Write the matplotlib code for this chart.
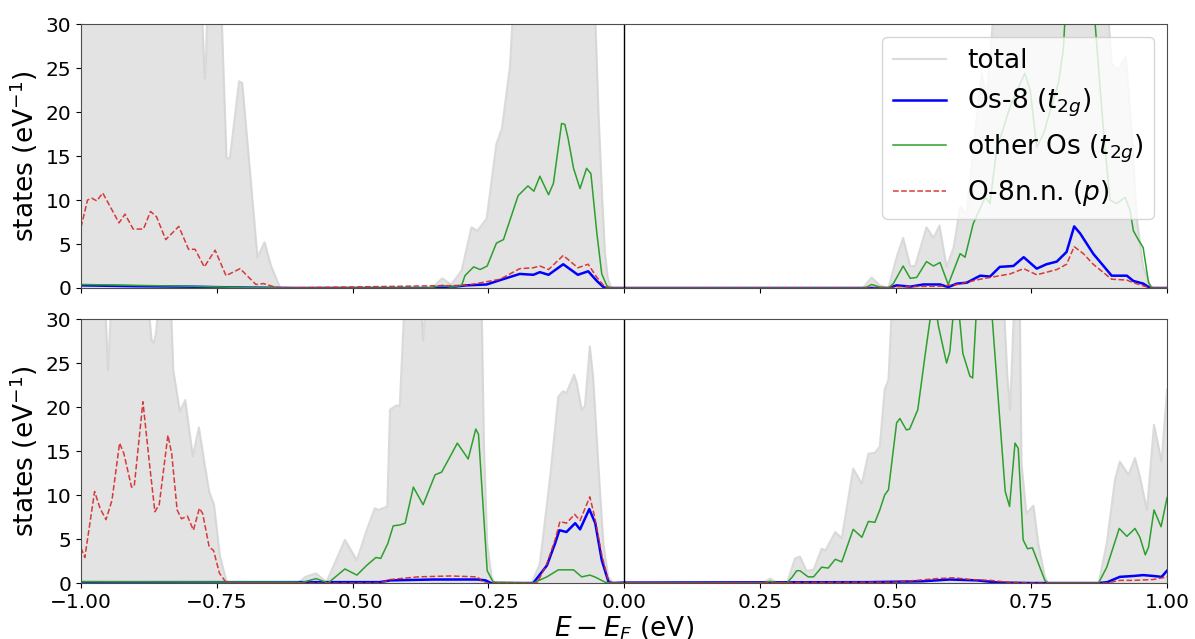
import numpy as np
import matplotlib
matplotlib.use('Agg')
import matplotlib.pyplot as plt

# ---- top panel ----
top_total_x = [-1.0, -0.90, -0.80, -0.777, -0.772, -0.770, -0.768, -0.745, -0.741, -0.732,
               -0.726, -0.709, -0.703, -0.675, -0.662, -0.650, -0.633, -0.360, -0.348, -0.335,
               -0.318, -0.299, -0.281, -0.270, -0.253, -0.235, -0.225, -0.210, -0.205, -0.150,
               -0.053, -0.047, -0.040, -0.035, -0.030, -0.025, -0.020, 0.440, 0.456, 0.471,
               0.487, 0.502, 0.514, 0.527, 0.536, 0.557, 0.570, 0.581, 0.594, 0.607,
               0.619, 0.631, 0.644, 0.659, 0.668, 0.680, 0.750, 0.892, 0.898, 0.910,
               0.924, 0.935, 0.944, 0.956, 0.969, 0.975, 1.0]
top_total_y = [40, 45, 40, 31, 23.8, 25.5, 31, 35, 31, 14.8,
               14.7, 23.5, 23.3, 3.5, 5.2, 2.5, 0, 0, 0.3, 1.1,
               0.4, 2.0, 6.9, 6.5, 7.9, 16.4, 18.1, 25.2, 31, 40,
               31, 20, 10, 4, 1.2, 0.2, 0, 0, 1.2, 0.3,
               0, 3.5, 5.7, 2.5, 2.5, 6.9, 5.7, 7.1, 2.4, 4.6,
               9.2, 8.4, 16.4, 24.4, 21.4, 31, 40, 31, 25.5, 24.8,
               26.3, 17.6, 8.1, 2.4, 0.3, 0, 0]

top_os8_x = [-1.0, -0.9, -0.8, -0.7, -0.6, -0.345, -0.320, -0.290, -0.253, -0.228,
             -0.192, -0.167, -0.155, -0.139, -0.112, -0.085, -0.066, -0.050, -0.038, -0.032,
             0.487, 0.502, 0.527, 0.551, 0.582, 0.597, 0.613, 0.631, 0.656, 0.674,
             0.692, 0.717, 0.736, 0.760, 0.778, 0.797, 0.815, 0.829, 0.840, 0.864,
             0.898, 0.926, 0.938, 0.956, 0.969, 1.0]
top_os8_y = [0.3, 0.2, 0.15, 0.05, 0, 0, 0.1, 0.3, 0.4, 0.9,
             1.6, 1.5, 1.8, 1.5, 2.7, 1.5, 1.9, 0.8, 0.1, 0,
             0, 0.3, 0.15, 0.4, 0.4, 0.1, 0.5, 0.6, 1.4, 1.3,
             2.4, 2.5, 3.5, 2.2, 2.7, 3.0, 4.1, 7.0, 6.2, 3.9,
             1.4, 1.4, 0.8, 0.5, 0, 0]

top_other_x = [-1.0, -0.9, -0.8, -0.7, -0.6, -0.360, -0.335, -0.318, -0.299, -0.293,
               -0.277, -0.265, -0.252, -0.235, -0.222, -0.195, -0.177, -0.166, -0.155, -0.139,
               -0.130, -0.115, -0.109, -0.103, -0.093, -0.081, -0.069, -0.061, -0.050, -0.041,
               -0.032, -0.026, 0.444, 0.456, 0.471, 0.487, 0.496, 0.514, 0.527, 0.539,
               0.557, 0.570, 0.582, 0.597, 0.619, 0.628, 0.643, 0.665, 0.674, 0.686,
               0.711, 0.738, 0.748, 0.760, 0.773, 0.785, 0.800, 0.809, 0.812, 0.840,
               0.867, 0.877, 0.886, 0.895, 0.907, 0.923, 0.932, 0.938, 0.947, 0.956,
               0.966, 0.972, 1.0]
top_other_y = [0.4, 0.3, 0.2, 0.05, 0, 0, 0.3, 0.1, 0.3, 1.4,
               2.4, 2.1, 2.5, 5.1, 5.5, 10.5, 11.6, 11.0, 12.7, 10.6,
               11.9, 18.7, 18.6, 17.0, 13.6, 11.3, 13.6, 13.0, 6.2, 1.6,
               0.3, 0, 0, 0.4, 0.1, 0, 0.5, 2.5, 1.1, 1.2,
               3.0, 2.5, 2.9, 0.4, 3.9, 3.5, 7.3, 10.3, 9.6, 15.7,
               20.6, 24.4, 22.5, 16.0, 17.6, 20.2, 23.3, 27.1, 30.5, 36,
               30.5, 22.5, 15.7, 10.0, 9.6, 10.3, 8.8, 6.5, 5.5, 4.6,
               0.6, 0, 0]

top_onn_x = [-1.0, -0.988, -0.980, -0.971, -0.960, -0.930, -0.919, -0.904, -0.885, -0.872,
             -0.861, -0.844, -0.820, -0.802, -0.790, -0.773, -0.753, -0.733, -0.707, -0.678,
             -0.664, -0.637, -0.290, -0.228, -0.192, -0.167, -0.155, -0.139, -0.112, -0.085,
             -0.066, -0.050, -0.035, -0.029, 0.490, 0.502, 0.582, 0.613, 0.656, 0.674,
             0.711, 0.736, 0.760, 0.797, 0.815, 0.829, 0.846, 0.864, 0.898, 0.926,
             0.938, 0.969, 1.0]
top_onn_y = [6.9, 10.0, 10.2, 9.9, 10.8, 7.4, 8.4, 6.7, 6.7, 8.7,
             8.1, 5.5, 7.0, 4.4, 4.4, 2.4, 4.3, 1.4, 2.2, 0.4,
             0.5, 0, 0.3, 1.0, 2.2, 2.3, 2.5, 2.1, 3.7, 2.3,
             2.7, 1.2, 0.1, 0, 0, 0.15, 0.2, 0.4, 1.0, 1.2,
             1.6, 2.2, 1.5, 2.1, 2.7, 4.7, 3.9, 2.7, 1.0, 0.9,
             0.6, 0, 0]

# ---- bottom panel ----
bot_total_x = [-1.0, -0.970, -0.955, -0.950, -0.945, -0.920, -0.875, -0.870, -0.866, -0.862,
               -0.858, -0.845, -0.834, -0.830, -0.818, -0.808, -0.794, -0.783, -0.772, -0.764,
               -0.755, -0.744, -0.732, -0.728, -0.600, -0.587, -0.567, -0.548, -0.514, -0.492,
               -0.474, -0.459, -0.452, -0.436, -0.431, -0.419, -0.413, -0.405, -0.380, -0.373,
               -0.370, -0.366, -0.330, -0.262, -0.258, -0.252, -0.244, -0.238, -0.170, -0.155,
               -0.136, -0.121, -0.112, -0.106, -0.092, -0.087, -0.078, -0.072, -0.063, -0.057,
               -0.047, -0.038, -0.029, -0.020, 0.255, 0.269, 0.283, 0.300, 0.315, 0.324,
               0.336, 0.349, 0.364, 0.371, 0.389, 0.401, 0.422, 0.438, 0.450, 0.462,
               0.471, 0.480, 0.487, 0.493, 0.600, 0.700, 0.706, 0.711, 0.718, 0.722,
               0.729, 0.732, 0.741, 0.754, 0.763, 0.775, 0.781, 0.874, 0.889, 0.904,
               0.913, 0.929, 0.941, 0.950, 0.963, 0.976, 0.990, 1.0]
bot_total_y = [40, 40, 31, 24.2, 31, 40, 31, 27.6, 27.3, 28.4,
               31, 40, 31, 24.2, 19.5, 20.8, 14.4, 17.7, 13.4, 10.4,
               8.9, 3.0, 0.2, 0, 0, 0.7, 1.1, 0.1, 4.9, 2.6,
               6.0, 8.5, 8.3, 8.7, 19.7, 20.2, 20.1, 31, 40, 31,
               27.6, 31, 40, 31, 15.9, 4.5, 0.7, 0, 0, 2.2,
               12.1, 21.2, 21.8, 21.6, 23.7, 22.7, 19.7, 20.1, 26.9, 23.5,
               13.2, 4.5, 0.7, 0, 0, 0.5, 0, 0, 2.8, 3.0,
               1.4, 1.5, 3.9, 3.7, 5.8, 5.1, 13.0, 11.3, 14.7, 14.8,
               15.5, 22.0, 23.1, 31, 40, 31, 23.5, 19.7, 31, 35,
               31, 13.6, 7.9, 8.8, 4.5, 0.7, 0, 0, 4.5, 11.7,
               13.8, 12.3, 14.2, 12.1, 8.3, 18.0, 13.8, 22.0]

bot_os8_x = [-1.0, -0.45, -0.43, -0.35, -0.27, -0.255, -0.245, -0.167, -0.142, -0.127,
             -0.119, -0.106, -0.090, -0.081, -0.064, -0.053, -0.041, -0.029, -0.023, 0.0,
             0.45, 0.55, 0.60, 0.65, 0.69, 0.75, 0.874, 0.890, 0.913, 0.938,
             0.956, 0.975, 0.990, 1.0]
bot_os8_y = [0.1, 0.1, 0.3, 0.4, 0.4, 0.3, 0, 0, 2.0, 4.5,
             6.0, 5.8, 6.8, 6.1, 8.4, 6.8, 2.6, 0.2, 0, 0.05,
             0.1, 0.2, 0.4, 0.3, 0.05, 0, 0, 0.1, 0.7, 0.8,
             0.9, 0.8, 0.7, 1.4]

bot_other_x = [-1.0, -0.60, -0.597, -0.567, -0.545, -0.514, -0.492, -0.474, -0.457, -0.448,
               -0.435, -0.425, -0.413, -0.403, -0.388, -0.370, -0.348, -0.336, -0.320, -0.307,
               -0.287, -0.273, -0.268, -0.252, -0.241, -0.167, -0.142, -0.121, -0.093, -0.078,
               -0.063, -0.054, -0.035, -0.026, 0.255, 0.269, 0.283, 0.300, 0.310, 0.318,
               0.324, 0.339, 0.349, 0.364, 0.376, 0.389, 0.401, 0.422, 0.438, 0.450,
               0.462, 0.471, 0.480, 0.487, 0.502, 0.508, 0.520, 0.526, 0.541, 0.554,
               0.566, 0.572, 0.579, 0.594, 0.600, 0.607, 0.615, 0.624, 0.637, 0.642,
               0.649, 0.665, 0.677, 0.686, 0.702, 0.710, 0.720, 0.726, 0.735, 0.743,
               0.752, 0.775, 0.781, 0.874, 0.889, 0.912, 0.926, 0.941, 0.950, 0.960,
               0.966, 0.976, 0.989, 1.0]
bot_other_y = [0.15, 0.1, 0, 0.5, 0, 1.6, 0.9, 2.0, 2.9, 2.8,
               4.5, 6.5, 6.6, 6.8, 10.9, 8.9, 12.3, 12.6, 14.4, 15.9,
               14.1, 17.5, 16.9, 1.4, 0.1, 0, 0.7, 1.5, 1.5, 0.7,
               0.9, 0.7, 0.1, 0, 0, 0.2, 0, 0, 0.7, 1.4,
               1.4, 0.7, 0.7, 1.8, 1.7, 2.7, 2.4, 6.1, 5.2, 7.0,
               6.9, 8.3, 10.0, 10.6, 18.2, 18.7, 17.4, 17.5, 19.7, 25.7,
               31, 32, 29.2, 25.0, 26.3, 31, 32, 26.1, 23.5, 23.3,
               31, 34, 31, 23.5, 10.4, 8.7, 15.9, 15.3, 4.9, 3.9,
               4.0, 0.3, 0, 0, 1.8, 6.2, 5.3, 6.2, 5.2, 3.2,
               4.1, 8.3, 6.4, 9.7]

bot_onn_x = [-1.0, -0.993, -0.975, -0.965, -0.954, -0.943, -0.929, -0.921, -0.907, -0.902,
             -0.886, -0.874, -0.864, -0.856, -0.840, -0.833, -0.823, -0.815, -0.804, -0.793,
             -0.782, -0.776, -0.764, -0.756, -0.745, -0.732, -0.450, -0.430, -0.413, -0.380,
             -0.320, -0.270, -0.258, -0.160, -0.142, -0.127, -0.118, -0.106, -0.091, -0.081,
             -0.063, -0.054, -0.041, -0.029, -0.023, 0.50, 0.557, 0.575, 0.607, 0.637,
             0.675, 0.705, 0.75, 0.889, 0.913, 0.938, 0.975, 1.0]
bot_onn_y = [4.0, 2.9, 10.4, 8.5, 7.2, 9.4, 15.9, 14.7, 10.9, 11.0,
             20.6, 13.6, 8.1, 8.9, 16.8, 14.7, 8.3, 7.3, 7.6, 6.0,
             8.5, 7.9, 4.1, 3.7, 1.1, 0, 0, 0.4, 0.5, 0.7,
             0.8, 0.7, 0, 0, 2.2, 4.9, 7.0, 6.8, 7.8, 7.1,
             9.8, 7.5, 3.2, 0.3, 0, 0.1, 0.4, 0.5, 0.6, 0.4,
             0.3, 0.1, 0, 0, 0.3, 0.3, 0.4, 0.7]

panels = [
    (top_total_x, top_total_y, top_os8_x, top_os8_y, top_other_x, top_other_y, top_onn_x, top_onn_y),
    (bot_total_x, bot_total_y, bot_os8_x, bot_os8_y, bot_other_x, bot_other_y, bot_onn_x, bot_onn_y),
]

fig = plt.figure(figsize=(11.95, 6.39), dpi=100)
ax_top = fig.add_axes([0.0678, 0.5493, 0.9088, 0.4131])
ax_bot = fig.add_axes([0.0678, 0.0876, 0.9088, 0.4131], sharex=ax_top)

for ax, (tx, ty, bx, by, gx, gy, rx, ry) in zip([ax_top, ax_bot], panels):
    ax.fill_between(tx, ty, color='#e3e3e3', lw=0)
    ax.plot(tx, ty, color='lightgray', lw=1.5, alpha=0.8, label='total')
    ax.plot(bx, by, color='blue', lw=1.8, label=r'Os-8 ($t_{2g}$)')
    ax.plot(gx, gy, color='tab:green', lw=1.1, label=r'other Os ($t_{2g}$)')
    ax.plot(rx, ry, color='tab:red', lw=1.1, ls='--', alpha=0.9, label=r'O-8n.n. ($p$)')
    ax.axvline(0, color='black', lw=1)
    ax.set_xlim(-1, 1)
    ax.set_ylim(0, 30)
    ax.set_yticks([0, 5, 10, 15, 20, 25, 30])
    ax.set_xticks([-1.0, -0.75, -0.5, -0.25, 0.0, 0.25, 0.5, 0.75, 1.0])
    ax.tick_params(labelsize=14.5)
    ax.set_ylabel(r'states (eV$^{-1}$)', fontsize=19)
    for s in ax.spines.values():
        s.set_color('0.3')

plt.setp(ax_top.get_xticklabels(), visible=False)
ax_bot.set_xlabel(r'$E - E_F$ (eV)', fontsize=19, labelpad=2)
ax_top.legend(loc='upper right', fontsize=19, handlelength=2.0)

fig.savefig('out.png', dpi=100)
